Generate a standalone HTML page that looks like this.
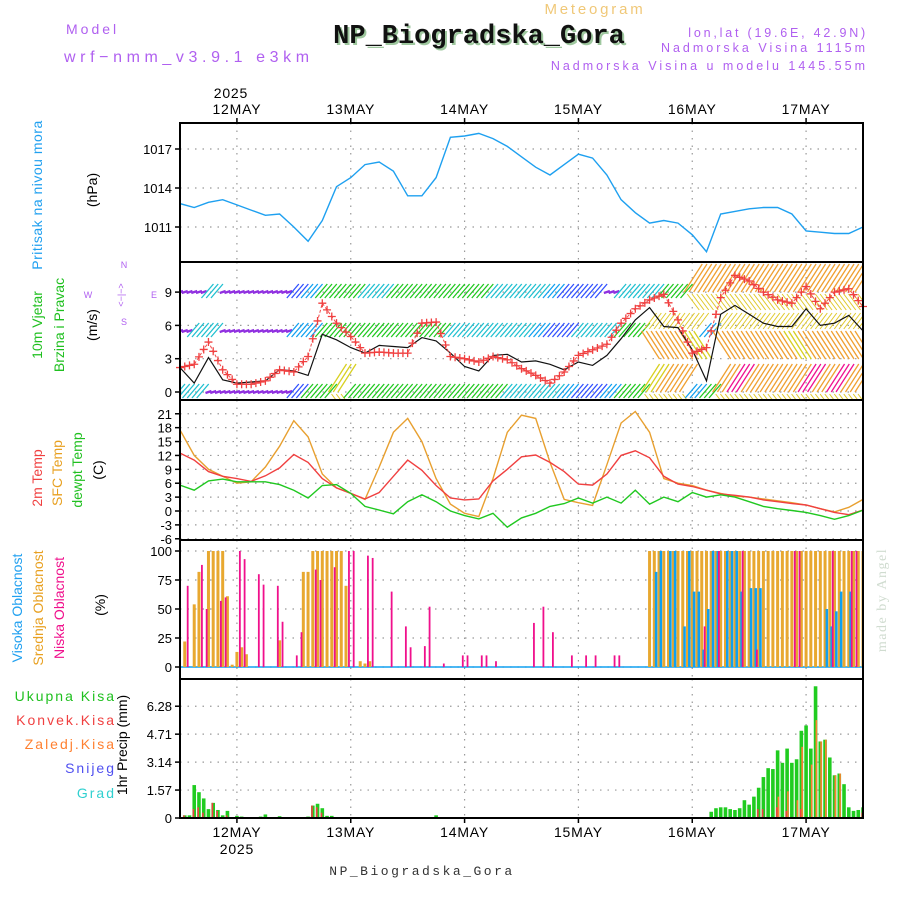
<!DOCTYPE html>
<html><head><meta charset="utf-8"><style>
html,body{margin:0;padding:0;background:#fff;}
svg{display:block;font-family:"Liberation Sans","DejaVu Sans",sans-serif;}
.tick{font-size:13px;fill:#000;text-anchor:end;}
.dl{font-size:14px;fill:#000;text-anchor:middle;letter-spacing:0.8px;}
.grid{stroke:#999;stroke-width:1.2;stroke-dasharray:1.5,6;}
</style></head><body>
<svg id="chart" width="900" height="900" viewBox="0 0 900 900" xmlns="http://www.w3.org/2000/svg">
<defs>
<clipPath id="cp1"><rect x="180" y="123" width="683" height="139"/></clipPath>
<clipPath id="cp2"><rect x="180" y="262" width="683" height="138"/></clipPath>
<clipPath id="cp3"><rect x="180" y="400" width="683" height="140"/></clipPath>
<clipPath id="cp4"><rect x="180" y="540" width="683" height="139"/></clipPath>
<clipPath id="cp5"><rect x="180" y="679" width="683" height="139"/></clipPath>
</defs>
<text x="595" y="14" font-size="15" fill="#f0c878" text-anchor="middle" letter-spacing="2.8">Meteogram</text>
<text x="481" y="45" font-size="27" font-weight="bold" font-family="Liberation Mono, monospace" fill="#9fc89f" text-anchor="middle">NP_Biogradska_Gora</text>
<text x="479" y="43" font-size="27" font-weight="bold" font-family="Liberation Mono, monospace" fill="#111" text-anchor="middle">NP_Biogradska_Gora</text>
<text x="66" y="34" font-size="14" fill="#b060f0" letter-spacing="3">Model</text>
<text x="64" y="62" font-size="16" fill="#b060f0" letter-spacing="4.6">wrf−nmm_v3.9.1 e3km</text>
<text x="868" y="37" font-size="12.5" fill="#b060f0" text-anchor="end" letter-spacing="2.8">lon,lat (19.6E, 42.9N)</text>
<text x="868" y="52" font-size="12.5" fill="#b060f0" text-anchor="end" letter-spacing="3">Nadmorska Visina 1115m</text>
<text x="868" y="70" font-size="12.5" fill="#b060f0" text-anchor="end" letter-spacing="3">Nadmorska Visina u modelu 1445.55m</text>
<text x="422" y="875" font-size="13" fill="#333" text-anchor="middle" font-family="Liberation Mono, monospace" letter-spacing="2.5">NP_Biogradska_Gora</text>
<text transform="translate(886,600) rotate(-90)" font-size="14" fill="#d0dcd0" text-anchor="middle" font-family="Liberation Serif, serif" letter-spacing="1.5">made by Angel</text>

<!-- left labels -->
<text transform="translate(42,195) rotate(-90)" font-size="14" fill="#20a0f0" text-anchor="middle" letter-spacing="0.5">Pritisak na nivou mora</text>
<text transform="translate(97,190) rotate(-90)" font-size="14" fill="#000" text-anchor="middle">(hPa)</text>
<text transform="translate(42,325) rotate(-90)" font-size="14" fill="#20c020" text-anchor="middle">10m Vjetar</text>
<text transform="translate(64,325) rotate(-90)" font-size="14" fill="#20c020" text-anchor="middle">Brzina i Pravac</text>
<text transform="translate(97,325) rotate(-90)" font-size="14" fill="#000" text-anchor="middle">(m/s)</text>
<g font-size="9" fill="#b060f0" text-anchor="middle">
<text x="124" y="268">N</text><text transform="translate(124,295) rotate(-90)">&lt;−|−&gt;</text><text x="88" y="298">W</text><text x="154" y="298">E</text><text x="124" y="325">S</text>
</g>
<text transform="translate(42,478) rotate(-90)" font-size="14" fill="#f04040" text-anchor="middle">2m Temp</text>
<text transform="translate(62,473) rotate(-90)" font-size="14" fill="#e8a020" text-anchor="middle">SFC Temp</text>
<text transform="translate(82,470) rotate(-90)" font-size="14" fill="#20c020" text-anchor="middle">dewpt Temp</text>
<text transform="translate(103,470) rotate(-90)" font-size="14" fill="#000" text-anchor="middle">(C)</text>
<text transform="translate(22,608) rotate(-90)" font-size="14" fill="#20a0f0" text-anchor="middle">Visoka Oblacnost</text>
<text transform="translate(43,608) rotate(-90)" font-size="14" fill="#e8a020" text-anchor="middle">Srednja Oblacnost</text>
<text transform="translate(64,608) rotate(-90)" font-size="14" fill="#f0108c" text-anchor="middle">Niska Oblacnost</text>
<text transform="translate(105,605) rotate(-90)" font-size="14" fill="#000" text-anchor="middle">(%)</text>
<g font-size="14" text-anchor="end" letter-spacing="2">
<text x="116" y="701" fill="#20c020">Ukupna Kisa</text>
<text x="116" y="725" fill="#f04040">Konvek.Kisa</text>
<text x="116" y="749" fill="#ff8030">Zaledj.Kisa</text>
<text x="116" y="773" fill="#5050f0">Snijeg</text>
<text x="116" y="798" fill="#30d0d0">Grad</text>
</g>
<text transform="translate(127,745) rotate(-90)" font-size="14" fill="#000" text-anchor="middle">1hr Precip (mm)</text>

<g id="grid"></g>
<g id="marks"></g>
<g id="axes"></g>
</svg>
<script>
// ---- data (3-hourly from 11 May 12z) ----
const pressure=[1012.8,1012.5,1012.9,1013.1,1012.7,1012.3,1011.9,1012.0,1011.0,1009.9,1011.5,1014.1,1014.8,1015.8,1016.0,1015.3,1013.4,1013.4,1014.8,1017.9,1018.0,1018.2,1017.8,1017.2,1016.4,1015.6,1015.0,1015.8,1016.6,1016.3,1015.0,1013.1,1012.1,1011.3,1011.5,1011.3,1010.4,1009.1,1012.0,1012.2,1012.4,1012.5,1012.5,1012.0,1010.7,1010.6,1010.5,1010.5,1011.0];
const windSpeed=[2.2,0.8,3.1,1.1,0.8,0.9,1.0,2.0,1.9,1.5,5.2,4.7,4.0,3.5,4.2,4.1,4.0,4.9,4.6,3.5,2.3,1.9,3.3,3.4,2.7,2.8,2.5,2.0,2.7,2.4,3.3,4.8,6.5,7.6,5.9,5.8,3.8,1.0,7.0,7.8,7.0,6.2,5.9,5.9,7.5,6.0,6.2,6.9,5.5];
const windGust=[2.2,2.5,4.5,2.0,0.7,0.7,1.0,2.0,1.8,3.2,8.0,6.2,5.0,3.5,3.6,3.5,3.5,6.2,6.3,3.2,3.0,2.7,3.2,2.9,2.1,1.5,0.8,1.8,3.3,3.8,4.3,6.2,7.5,8.3,8.8,6.5,3.5,4.0,8.5,10.5,10.0,9.0,8.3,8.0,9.5,7.5,9.0,9.3,7.7];
const temp2m=[12.5,11,8.5,7.5,7.0,6.4,7.6,9.3,12.2,10.5,7.0,5.0,3.8,2.6,4.0,7.5,11.0,8.8,5.5,2.8,2.4,2.6,6.5,9.0,11.7,12.1,10.5,8.5,5.8,5.6,8.0,12.0,13.0,11.5,7.5,5.8,5.3,4.5,3.7,3.4,3.0,2.4,2.0,1.6,1.3,0.5,-0.3,-0.8,0.2];
const tempSfc=[17.5,12.0,9.0,7.5,6.0,6.3,9.5,14.0,19.5,16.0,8.0,5.0,3.8,2.5,9.5,17.0,20.0,15.0,7.0,1.5,-0.5,-1.2,7.0,17.0,20.7,20.0,10.5,2.5,1.8,1.2,10.0,19.0,21.5,17.0,7.0,6.0,5.5,4.5,3.8,3.2,3.0,2.6,2.2,1.8,1.3,0.5,-0.2,0.8,2.5];
const tempDew=[5.6,4.5,6.5,6.9,6.3,6.3,6.3,5.7,4.5,2.8,5.5,5.7,3.8,1.0,0.2,-0.6,2.0,3.5,2.0,0,-1.0,-1.7,-0.5,-3.5,-1.5,-0.5,1.0,1.6,2.8,1.7,3.0,1.7,4.5,1.5,3.0,2.0,4.0,3.0,3.5,3.0,2.0,1.0,0.5,0.1,-0.3,-1.0,-1.8,-1.0,0.2];
// wind barb colour categories per 3h (0 purple .. 7 magenta)
const barbTop=[0,0,3,0,0,0,0,0,1,2,4,4,4,3,3,4,4,4,4,4,4,4,3,3,3,3,2,1,1,1,0,3,3,3,4,4,6,6,6,6,6,6,6,6,6,6,6,6,6];
const barbMid=[0,3,3,0,0,0,0,0,2,2,4,4,4,4,4,4,4,4,4,3,3,3,3,3,3,2,1,1,3,3,3,4,4,6,6,6,5,2,6,6,6,6,6,5,6,6,6,6,6];
const barbBot=[3,3,0,0,0,0,0,0,1,4,4,5,4,4,4,4,4,4,4,4,4,4,4,3,3,3,3,2,1,1,2,4,4,5,6,6,2,4,6,7,6,6,6,6,7,6,7,6,6];
// clouds (hour index, percent)
const cloudMidH=[1,3,4,6,7,8,9,10,11,12,13,14,21,26,27,28,29,30,31,32,33,34,35,38,39,40,99,100,101,102,103,104,105,106,107,108,109,110,111,112,113,114,115,116,117,118,119,120,121,122,123,124,125,126,127,128,129,130,131,132,133,134,135,136,137,138,139,140,141,142,143,144];
const cloudMidV=[22,54,82,100,100,100,100,61,2,13,17,11,23,82,82,100,100,100,100,100,100,100,70,5,3,5,100,100,100,100,100,100,100,100,100,100,100,100,100,100,100,100,100,100,100,100,100,100,100,100,100,100,100,100,100,100,100,100,100,100,100,100,100,100,100,100,100,100,100,100,100,100];
const cloudLowH=[2,5,6,9,10,13,14,17,18,21,22,25,26,29,30,33,36,37,40,41,45,48,49,52,53,56,60,61,64,65,67,75,77,79,83,86,88,92,93,111,114,119,122,130,131,138,142,143];
const cloudLowV=[70,88,50,57,60,100,93,80,71,70,39,10,30,84,75,86,100,100,96,94,65,35,17,18,52,3,10,10,10,10,5,38,52,30,10,10,10,10,10,35,100,100,15,100,100,100,100,100];
const cloudHighH=[100,101,103,104,106,107,108,109,110,111,112,113,115,116,117,118,120,121,122,136,137,138,139,141];
const cloudHighV=[82,100,100,100,35,100,65,65,15,50,100,100,100,100,100,65,68,68,68,50,35,48,65,65];
// precipitation (hour index, mm)
const rainH=[1,2,3,4,5,6,7,8,9,10,12,13,17,18,21,27,28,29,30,31,32,54,112,113,114,115,116,117,118,119,120,121,122,123,124,125,126,127,128,129,130,131,132,133,134,135,136,137,138,139,140,141,142,143,144];
const rainTotal=[0.15,0.15,1.85,1.45,1.1,0.5,0.85,0.45,0.15,0.4,0.12,0.08,0.08,0.2,0.1,0.08,0.7,0.8,0.55,0.12,0.12,0.15,0.35,0.55,0.6,0.6,0.5,0.45,0.55,1.0,0.75,1.2,1.7,2.3,2.8,2.75,3.8,3.1,3.9,3.1,3.3,4.9,5.2,3.9,7.4,4.3,4.4,3.4,2.4,2.5,1.9,0.6,0.4,0.45,0.6];
const convH=[1,3,4,5,7,8,10,28,29,30,122,123,126,128,131,144];
const convV=[0.15,0.5,0.6,0.3,0.85,0.4,0.15,0.7,0.6,0.3,0.5,0.5,0.6,0.4,0.5,0.3];
const frzH=[126,128,130,131,133,134,135,136,138,139];
const frzV=[1.2,1.5,1.0,4.0,3.0,5.5,4.3,4.4,2.4,2.5];
const dayLabels=["12MAY","13MAY","14MAY","15MAY","16MAY","17MAY"];
const pTicks=[1011,1014,1017];
const wTicks=[0,3,6,9];
const tTicks=[-6,-3,0,3,6,9,12,15,18,21];
const cTicks=[0,25,50,75,100];
const rTicks=[0,1.57,3.14,4.71,6.28];

// ---- scales ----
const X0=180,X1=863;
const xH=h=>X0+h*(X1-X0)/144;
const yP=p=>149+(1017-p)*13;
const yW=v=>392-v*11.1;
const yT=t=>511-t*4.63;
const yC=c=>667-c*1.16;
const yR=r=>818-r*17.8;
const NS="http://www.w3.org/2000/svg";
function mk(tag,attrs,parent){const e=document.createElementNS(NS,tag);for(const k in attrs)e.setAttribute(k,attrs[k]);parent.appendChild(e);return e;}
const G=document.getElementById('grid'),M=document.getElementById('marks'),A=document.getElementById('axes');
const panels=[[123,262,pTicks,yP,"pressure"],[262,400,wTicks,yW,"wind"],[400,540,tTicks,yT,"temp"],[540,679,cTicks,yC,"cloud"],[679,818,rTicks,yR,"precip"]];
panels.forEach(([t,b,ticks,sc,nm])=>{
  dayLabels.forEach((d,i)=>{const x=xH(12+24*i);
    const l=mk('line',{x1:x,x2:x,y1:t,y2:b,class:'grid'},G);
    
    });
  ticks.forEach(v=>{const y=sc(v);
    const l=mk('line',{x1:X0,x2:X1,y1:y,y2:y,class:'grid'},G);
    
    
    const tk=mk('line',{x1:X0-5,x2:X0,y1:y,y2:y,stroke:'#000','stroke-width':1.5},A);
    
    
    const tx=mk('text',{x:X0-8,y:y+5,class:'tick'},A);tx.textContent=String(v);
    
    });
  const r=mk('rect',{x:X0,y:t,width:X1-X0,height:b-t,fill:'none',stroke:'#000','stroke-width':2},A);
  
  
});
dayLabels.forEach((d,i)=>{const x=xH(12+24*i);
  const a=mk('text',{x:x,y:114,class:'dl'},A);a.textContent=d;
  
  
  const b=mk('text',{x:x,y:837,class:'dl'},A);b.textContent=d;
  
  
  [[123,-5],[818,5]].forEach(([yy,dy])=>{const tk=mk('line',{x1:x,x2:x,y1:yy,y2:yy+dy,stroke:'#000','stroke-width':1.5},A);
    
    });
});
const y1=mk('text',{x:xH(12)-6,y:98,class:'dl'},A);y1.textContent="2025";


const y2=mk('text',{x:xH(12),y:854,class:'dl'},A);y2.textContent="2025";



function line(arr,sc,color,clip,name,w){
  const pts=arr.map((v,i)=>xH(i*3).toFixed(1)+','+sc(v).toFixed(1)).join(' ');
  const p=mk('polyline',{points:pts,fill:'none',stroke:color,'stroke-width':w||1.4,'clip-path':'url(#'+clip+')'},M);
  
  
  return p;
}
line(pressure,yP,'#1ea0f0','cp1','pressure-line');

// wind barbs
const pal=['#9030e0','#3050ff','#10a0f0','#20c0d0','#20c820','#d8d020','#f0a030','#f01090'];
const barbG=mk('g',{'clip-path':'url(#cp2)'},M);


[[barbTop,292,-1],[barbMid,331,1],[barbBot,392,-1]].forEach(([codes,base,dir])=>{
  for(let h=0;h<=144;h++){
    const c=codes[Math.floor(h/3)],x=xH(h),col=pal[c];let l;
    if(c===0){l=mk('line',{x1:x-3,y1:base+1,x2:x+3,y2:base-1,stroke:col,'stroke-width':2.4},barbG);}
    else if(c<5){l=mk('line',{x1:x-7,y1:base+6,x2:x+5,y2:base-8,stroke:col,'stroke-width':1.3},barbG);}
    else{l=mk('line',{x1:x-8,y1:base,x2:x+10,y2:base+dir*28,stroke:col,'stroke-width':1.3},barbG);
      const s=mk('line',{x1:x-5,y1:base-dir*2,x2:x+7,y2:base-dir*18,stroke:'#e0c828','stroke-width':1},barbG);
      
      }
    
    
  }
});
line(windSpeed,yW,'#111','cp2','wind-speed-line',1.2);
line(windGust,yW,'#f04848','cp2','wind-gust-line',1.0).setAttribute('stroke-dasharray','3,2');
windGust.forEach((v,i)=>{
  const pts=[[xH(i*3),yW(v)]];
  if(i<windGust.length-1){const x2=xH(i*3+3),yv=yW(windGust[i+1]);pts.push([(2*xH(i*3)+x2)/3,(2*yW(v)+yv)/3],[(xH(i*3)+2*x2)/3,(yW(v)+2*yv)/3]);}
  pts.forEach(([x,y])=>{if(x>X1)return;
    const g=mk('path',{d:`M${x-4},${y}H${x+4}M${x},${y-4}V${y+4}`,stroke:'#f04040','stroke-width':1.3},M);
    
    });
});

// temperatures
line(tempSfc,yT,'#e8a030','cp3','sfc-temp-line');
line(temp2m,yT,'#f04040','cp3','temp-2m-line');
line(tempDew,yT,'#20c820','cp3','dewpoint-line');

// clouds
const cg=mk('g',{'clip-path':'url(#cp4)'},M);


const zl=mk('line',{x1:X0,x2:X1,y1:yC(0),y2:yC(0),stroke:'#10a0f0','stroke-width':1.5},cg);


function bars(H,V,sc,dx,w,col,name,parent){H.forEach((h,i)=>{const x=xH(h)+dx,y=sc(V[i]),y0=sc(0);
  const r=mk('rect',{x:x-w/2,y:y,width:w,height:Math.max(0,y0-y),fill:col},parent);
  
  });}
bars(cloudMidH,cloudMidV,yC,0,3,'#e8a830','mid-cloud-bar',cg);
bars(cloudHighH,cloudHighV,yC,1.8,2.5,'#10a0f0','high-cloud-bar',cg);
bars(cloudLowH,cloudLowV,yC,-1.8,1.8,'#f0108c','low-cloud-bar',cg);

// precipitation
const pg=mk('g',{'clip-path':'url(#cp5)'},M);


bars(rainH,rainTotal,yR,0,3.6,'#20cc20','total-rain-bar',pg);
bars(frzH,frzV,yR,0.8,1.6,'#ff8030','freezing-rain-bar',pg);
bars(convH,convV,yR,-0.8,1.6,'#f04040','convective-rain-bar',pg);
const bl=mk('line',{x1:X0,x2:X1,y1:818,y2:818,stroke:'#000','stroke-width':2,'stroke-dasharray':'5,2'},pg);


</script>
</body></html>
